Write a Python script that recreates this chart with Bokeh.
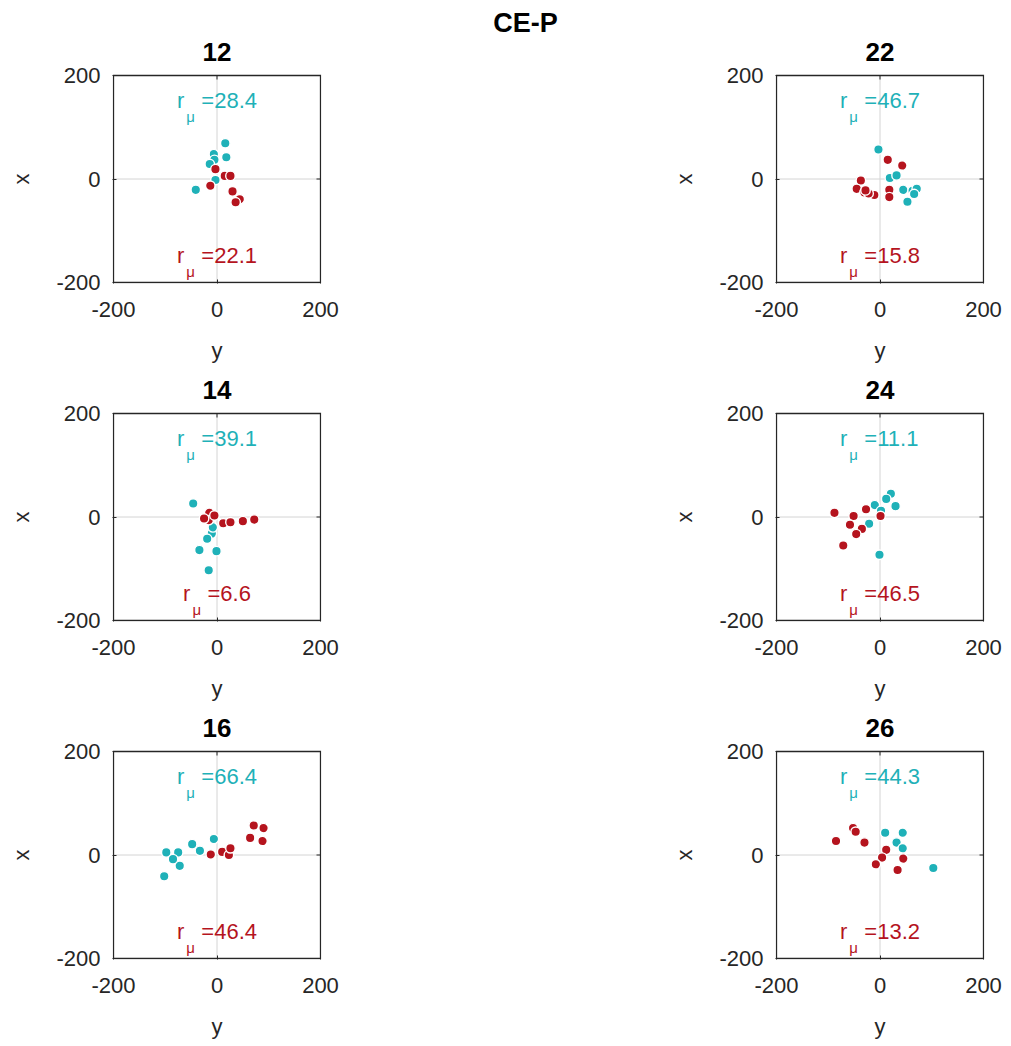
import math
from bokeh.plotting import figure
from bokeh.models import Range1d, FixedTicker, Label
from bokeh.layouts import column, row
from bokeh.embed import file_html
from bokeh.resources import INLINE

# ---------------- data (horizontal = "y", vertical = "x") ----------------
main_title = "CE-P"
panel_titles = ["12", "22", "14", "24", "16", "26"]
tick_values = [-200, 0, 200]
tick_labels = ["-200", "0", "200"]
x_axis_name = "y"
y_axis_name = "x"

p12_cyan_y = [16, 18, -6, -5, -14, -41, -3]
p12_cyan_x = [69, 42, 48, 37, 29, -21, -2]
p12_red_y = [-3, 15, 26, -13, 30, 44, 36]
p12_red_x = [19, 6, 6, -13, -24, -39, -45]

p22_cyan_y = [-3, 19, 32, 45, 53, 63, 71, 66]
p22_cyan_x = [57, 2, 7, -21, -44, -23, -19, -29]
p22_red_y = [15, 43, -37, -45, -30, -11, -22, 18, 18, -28]
p22_red_x = [37, 26, -3, -19, -26, -31, -28, -21, -35, -22]

p14_cyan_y = [-46, -10, -19, -34, -1, -16, -8]
p14_cyan_x = [26, -32, -42, -64, -66, -103, -20]
p14_red_y = [-15, -16, 12, 26, 50, 72, -25, -5]
p14_red_x = [8, -6, -12, -10, -8, -5, -3, 3]

p24_cyan_y = [21, 12, 30, -10, 2, -21, -1]
p24_cyan_x = [45, 35, 21, 23, 12, -13, -73]
p24_red_y = [-88, -51, -27, 1, -58, -35, -46, -71]
p24_red_x = [8, 2, 15, 2, -15, -23, -33, -55]

p16_cyan_y = [-6, -48, -33, -98, -75, -72, -102, -85]
p16_cyan_x = [31, 21, 8, 5, 5, -21, -41, -8]
p16_red_y = [71, 90, 64, 88, 10, -12, 23, 26]
p16_red_x = [57, 52, 33, 27, 6, 1, 0, 13]

p26_cyan_y = [10, 44, 32, 44, 103]
p26_cyan_x = [43, 43, 24, 13, -25]
p26_red_y = [-52, -85, -30, 12, 4, -8, 45, 34, -47]
p26_red_x = [52, 27, 24, 10, -5, -18, -7, -29, 45]

r_cyan = ["28.4", "46.7", "39.1", "11.1", "66.4", "44.3"]
r_red = ["22.1", "15.8", "6.6", "46.5", "46.4", "13.2"]

# ---------------- styles / layout ----------------
CYAN = "#1fb1b8"
RED = "#b5141e"
DARK = "#262626"
GRID = "#d4d4d4"
FONT = "Liberation Sans"
ANN_SIZE = 22
SUB_SIZE = 15
ADV = {"0": .556, "1": .556, "2": .556, "3": .556, "4": .556, "5": .556,
       "6": .556, "7": .556, "8": .556, "9": .556, ".": .278, "=": .584, "r": .333}

LO, HI = min(tick_values), max(tick_values)
BOX = 207                    # plot box size in pixels
PX = (HI - LO) / BOX         # data units per pixel
PAD = 1                      # frame padding round the box (px)
FRAME_W = BOX + 2 * PAD
SIDE_W = 52                  # strip left of the first column (holds "x")
BL, BR = 60, 21              # panel left / right borders
MID_W = 373                  # area between the columns
B_ROW = 87
ROW_TOP_EXTRA = [75, 42, 42]  # px above the box inside the frame, per row
ROW_TOP_BORDER = [0, 1, 1]


def text_width(s, size):
    return sum(ADV.get(ch, .556) for ch in s) * size


def y_range_for(extra):
    return Range1d(LO - PAD * PX, HI + extra * PX)


def add_r_label(p, value, color, y_base, y_sub):
    main = "=" + value
    r_w = text_width("r", ANN_SIZE)
    gap = 17
    total = r_w + gap + text_width(main, ANN_SIZE)
    x0 = -total / 2
    common = dict(x=0, text_color=color, text_font=FONT, text_baseline="alphabetic",
                  text_align="left")
    p.add_layout(Label(y=y_base, text="r", x_offset=x0, text_font_size=f"{ANN_SIZE}px", **common))
    p.add_layout(Label(y=y_sub, text="μ", x_offset=x0 + r_w + 2, text_font_size=f"{SUB_SIZE}px", **common))
    p.add_layout(Label(y=y_base, text=main, x_offset=x0 + r_w + gap, text_font_size=f"{ANN_SIZE}px", **common))


def blank(width, r):
    extra = ROW_TOP_EXTRA[r]
    b = figure(frame_width=width, frame_height=BOX + PAD + extra, title=None,
               min_border_left=0, min_border_right=0,
               min_border_top=ROW_TOP_BORDER[r], min_border_bottom=B_ROW,
               x_range=Range1d(0, width), y_range=y_range_for(extra),
               x_axis_type=None, y_axis_type=None,
               output_backend="svg", toolbar_location=None)
    b.outline_line_color = None
    b.grid.visible = False
    return b


def add_ylabel(b, x):
    b.add_layout(Label(x=x, y=(LO + HI) / 2, text=y_axis_name, angle=math.pi / 2,
                       text_align="center", text_baseline="middle", text_font=FONT,
                       text_font_size="22px", text_color=DARK))


def make_panel(title, cy, cx, ry, rx, rc, rr, r):
    extra = ROW_TOP_EXTRA[r]
    p = figure(frame_width=FRAME_W, frame_height=BOX + PAD + extra, title=None,
               min_border_left=BL, min_border_right=BR,
               min_border_top=ROW_TOP_BORDER[r], min_border_bottom=B_ROW,
               x_range=Range1d(LO - PAD * PX, HI + PAD * PX), y_range=y_range_for(extra),
               output_backend="svg", toolbar_location=None)
    p.outline_line_color = None
    p.grid.visible = False
    for ax in (p.xaxis, p.yaxis):
        ax.ticker = FixedTicker(ticks=tick_values)
        ax.major_label_overrides = dict(zip(tick_values, tick_labels))
        ax.major_label_text_font = FONT
        ax.major_label_text_font_size = "22px"
        ax.major_label_text_color = DARK
        ax.major_tick_in = 4
        ax.major_tick_out = 0
        ax.major_tick_line_color = DARK
        ax.minor_tick_line_color = None
        ax.axis_line_color = None
    p.xaxis.axis_label = x_axis_name
    p.xaxis.axis_label_text_font = FONT
    p.xaxis.axis_label_text_font_size = "22px"
    p.xaxis.axis_label_text_font_style = "normal"
    p.xaxis.axis_label_text_color = DARK
    p.xaxis.major_label_standoff = 18
    p.yaxis.major_label_standoff = 12
    p.xaxis.axis_label_standoff = 18

    # zero grid lines inside the box
    p.segment(x0=[LO, 0], y0=[0, LO], x1=[HI, 0], y1=[0, HI], line_color=GRID, line_width=1)

    p.scatter(cy, cx, size=9.5, fill_color=CYAN, line_color="white", line_width=1.4)
    p.scatter(ry, rx, size=9.5, fill_color=RED, line_color="white", line_width=1.4)

    # box and inner ticks on the top and right edges
    p.quad(left=[LO], right=[HI], bottom=[LO], top=[HI], fill_color=None,
           line_color=DARK, line_width=1.3, line_join="miter")
    tl = 4 * PX
    n = len(tick_values)
    p.segment(x0=tick_values, y0=[HI] * n, x1=tick_values, y1=[HI - tl] * n,
              line_color=DARK, line_width=1)
    p.segment(x0=[HI] * n, y0=tick_values, x1=[HI - tl] * n, y1=tick_values,
              line_color=DARK, line_width=1)

    add_r_label(p, rc, CYAN, HI - 25 * PX, HI - 41 * PX)
    add_r_label(p, rr, RED, HI - 180 * PX, HI - 196 * PX)

    p.add_layout(Label(x=0, y=HI + 24 * PX, text=title, text_align="center",
                       text_baseline="alphabetic", text_font=FONT, text_font_size="26px",
                       text_font_style="bold", text_color="black"))
    return p


panels_data = [
    (p12_cyan_y, p12_cyan_x, p12_red_y, p12_red_x),
    (p22_cyan_y, p22_cyan_x, p22_red_y, p22_red_x),
    (p14_cyan_y, p14_cyan_x, p14_red_y, p14_red_x),
    (p24_cyan_y, p24_cyan_x, p24_red_y, p24_red_x),
    (p16_cyan_y, p16_cyan_x, p16_red_y, p16_red_x),
    (p26_cyan_y, p26_cyan_x, p26_red_y, p26_red_x),
]

rows = []
for r in range(3):
    left = make_panel(panel_titles[2 * r], *panels_data[2 * r], r_cyan[2 * r], r_red[2 * r], r)
    right = make_panel(panel_titles[2 * r + 1], *panels_data[2 * r + 1],
                       r_cyan[2 * r + 1], r_red[2 * r + 1], r)
    side = blank(SIDE_W, r)
    add_ylabel(side, 21)
    mid = blank(MID_W, r)
    add_ylabel(mid, MID_W - 31)
    if r == 0:
        left_fig_w = SIDE_W + BL + FRAME_W + BR
        mid.add_layout(Label(x=525 - left_fig_w, y=HI + 53 * PX, text=main_title,
                             text_align="center", text_baseline="alphabetic", text_font=FONT,
                             text_font_size="27px", text_font_style="bold", text_color="black"))
    rows.append(row(side, left, mid, right))

layout = column(*rows, spacing=0)

open("out.html", "w").write(file_html(layout, INLINE))
